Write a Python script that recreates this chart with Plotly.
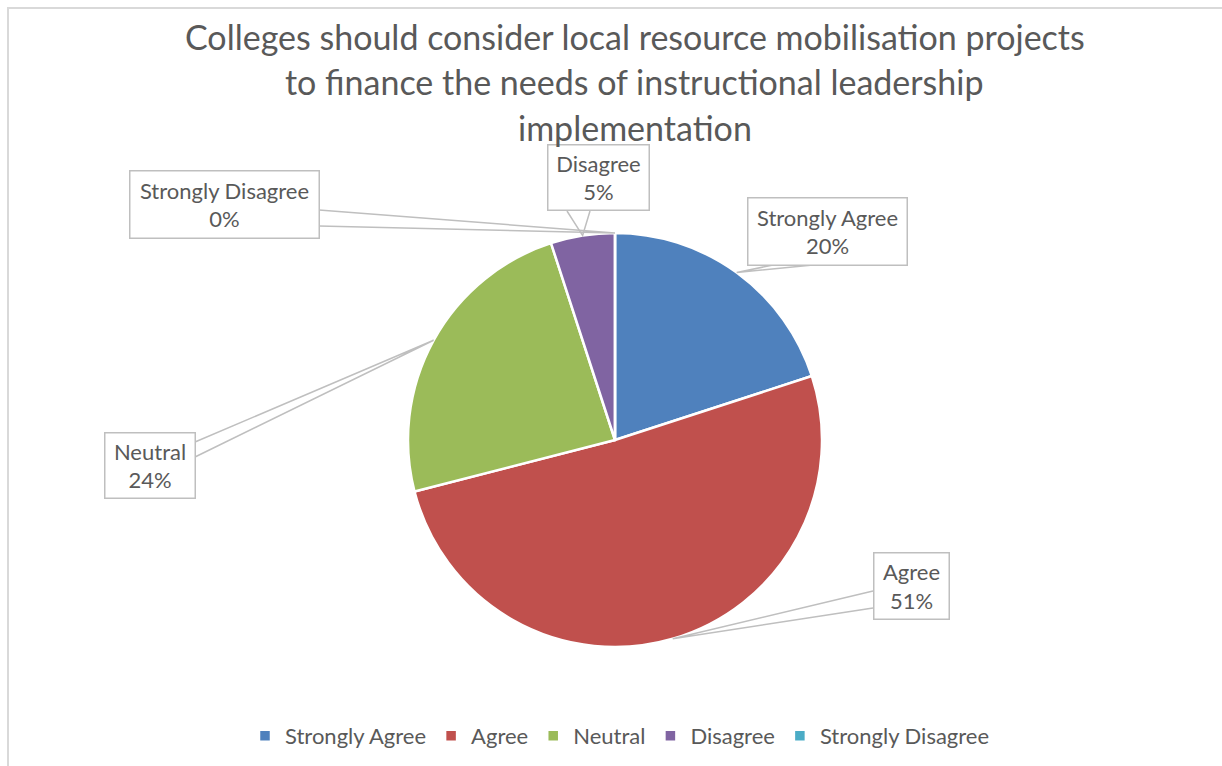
import math
import plotly.graph_objects as go

# Survey responses (share of respondents, %)
categories = ["Strongly Agree", "Agree", "Neutral", "Disagree", "Strongly Disagree"]
percentages = [20, 51, 24, 5, 0]
colors = ["#4F81BD", "#C0504D", "#9BBB59", "#8064A2", "#4BACC6"]
title_lines = [
    "Colleges should consider local resource mobilisation projects",
    "to finance the needs of instructional leadership",
    "implementation",
]

W, H = 1222, 766
TEXT = "#595959"
FONT = "Lato, Carlito, 'Open Sans', sans-serif"

# pie geometry in pixels
cx, cy, r = 615, 440, 207

# callout boxes: (left, top, right, bottom) and the two points where the
# pointer leaves the box
callouts = {
    "Strongly Agree": dict(box=(747, 198, 907, 266), base=((773, 265), (813, 265))),
    "Agree": dict(box=(873, 552, 949, 619), base=((873, 591), (873, 608))),
    "Neutral": dict(box=(104, 432, 195, 498), base=((195, 442), (195, 457))),
    "Disagree": dict(box=(547, 145, 649, 211), base=((567, 211), (590, 211))),
    "Strongly Disagree": dict(box=(129, 170, 319, 238), base=((319, 210), (319, 226))),
}


def px(x):
    return x / W


def py(y):
    return 1 - y / H


fig = go.Figure(
    go.Pie(
        labels=categories,
        values=percentages,
        marker=dict(colors=colors, line=dict(color="white", width=2.5)),
        sort=False,
        direction="clockwise",
        rotation=0,
        textinfo="none",
        hoverinfo="label+percent",
        domain=dict(x=[px(cx - r), px(cx + r)], y=[py(cy + r), py(cy - r)]),
        showlegend=True,
    )
)

shapes = [
    # chart area outline
    dict(type="rect", xref="paper", yref="paper",
         x0=px(8), x1=px(W + 20), y0=py(H + 20), y1=py(8),
         line=dict(color="#D9D9D9", width=2), fillcolor="rgba(0,0,0,0)", layer="below"),
]
annotations = []

total = sum(percentages)
cum = 0
for name, val in zip(categories, percentages):
    mid = 2 * math.pi * (cum + val / 2) / total
    cum += val
    tip_x = cx + r * math.sin(mid)
    tip_y = cy - r * math.cos(mid)
    c = callouts[name]
    (ax, ay), (bx, by) = c["base"]
    shapes.append(dict(
        type="path", xref="paper", yref="paper",
        path=f"M{px(ax)},{py(ay)} L{px(tip_x)},{py(tip_y)} L{px(bx)},{py(by)}",
        line=dict(color="#BFBFBF", width=1.5),
    ))
    l, t, rr, b = c["box"]
    annotations.append(dict(
        xref="paper", yref="paper",
        x=px((l + rr) / 2), y=py((t + b) / 2),
        xanchor="center", yanchor="middle",
        text=f"{name}<br>{val}%",
        showarrow=False,
        align="center",
        width=rr - l - 4, height=b - t - 4,
        borderpad=1,
        bgcolor="white",
        bordercolor="#BFBFBF", borderwidth=1.5,
        font=dict(family=FONT, size=22, color=TEXT),
    ))

for i, line in enumerate(title_lines):
    annotations.append(dict(
        xref="paper", yref="paper",
        x=px(635), y=py(37 + 45 * i),
        xanchor="center", yanchor="middle",
        text=line, showarrow=False,
        font=dict(family=FONT, size=34, color=TEXT),
    ))

fig.update_layout(
    width=W, height=H,
    margin=dict(l=0, r=0, t=0, b=0),
    paper_bgcolor="white",
    plot_bgcolor="white",
    shapes=shapes,
    annotations=annotations,
    legend=dict(
        orientation="h",
        x=px(620), y=py(736),
        xanchor="center", yanchor="middle",
        font=dict(family=FONT, size=22, color=TEXT),
        itemwidth=30,
        traceorder="normal",
    ),
)

fig.write_html("out.html")
